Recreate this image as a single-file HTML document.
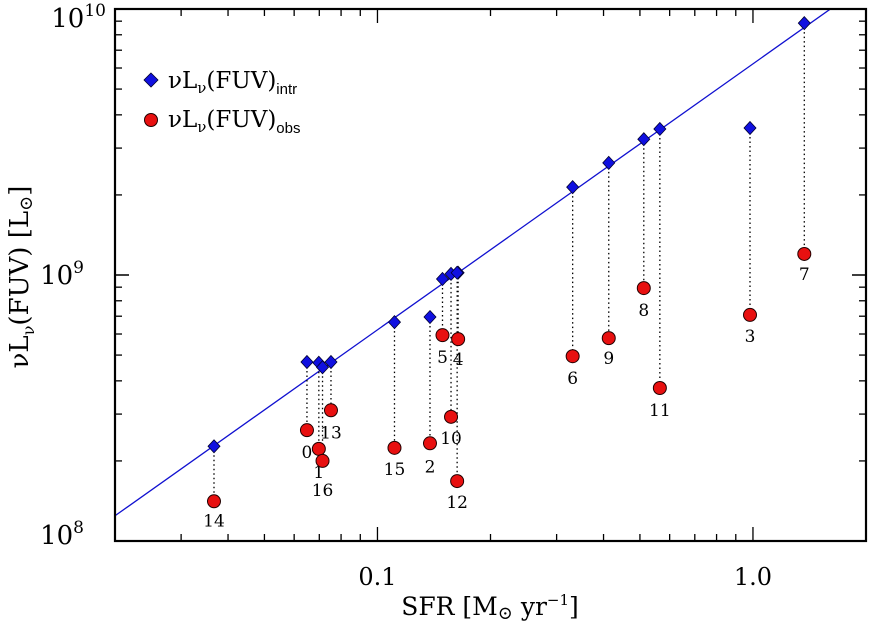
<!DOCTYPE html>
<html><head><meta charset="utf-8"><style>
html,body{margin:0;padding:0;background:#fff;}
svg{display:block;font-family:"DejaVu Serif","Liberation Serif",serif;}
</style></head><body>
<svg id="chart" width="869" height="625" viewBox="0 0 869 625" xmlns="http://www.w3.org/2000/svg">
<rect x="0" y="0" width="869" height="625" fill="#fff"/>
<g id="marks"></g>
<g id="axes"></g>
<text x="490" y="615" text-anchor="middle" font-size="25">SFR [M<tspan font-size="18" dy="4">⊙</tspan><tspan dy="-4"> yr</tspan><tspan font-size="15" dy="-10">−1</tspan><tspan dy="10">]</tspan></text>
<text transform="translate(28,277) rotate(-90)" text-anchor="middle" font-size="26">νL<tspan font-size="16" dy="6">ν</tspan><tspan dy="-6">(FUV)  [L</tspan><tspan font-size="18" dy="4">⊙</tspan><tspan dy="-4">]</tspan></text>
<g>
<polygon points="151,73 158,80 151,87 144,80" fill="#1010e0" stroke="#000030" stroke-width="0.8"/>
<text x="168" y="88" font-size="23">νL<tspan font-size="15" dy="5">ν</tspan><tspan dy="-5">(FUV)</tspan><tspan font-family="Liberation Sans, sans-serif" font-size="15" dy="6">intr</tspan></text>
<circle cx="151" cy="120" r="6.5" fill="#e81010" stroke="#200" stroke-width="1"/>
<text x="168" y="127" font-size="23">νL<tspan font-size="15" dy="5">ν</tspan><tspan dy="-5">(FUV)</tspan><tspan font-family="Liberation Sans, sans-serif" font-size="15" dy="6">obs</tspan></text>
</g>
</svg>
<script>
const galaxyIds = [14,0,1,16,13,15,2,5,10,4,12,6,9,8,11,3,7];
const sfrValues = [0.0367,0.0649,0.0698,0.0714,0.0752,0.111,0.138,0.149,0.157,0.164,0.163,0.331,0.413,0.512,0.565,0.982,1.37];
const lumIntr = [2.27e8,4.71e8,4.68e8,4.5e8,4.71e8,6.65e8,6.95e8,9.66e8,1.01e9,1.02e9,1.02e9,2.14e9,2.64e9,3.24e9,3.54e9,3.57e9,8.85e9];
const lumObs = [1.41e8,2.61e8,2.22e8,2.0e8,3.10e8,2.24e8,2.33e8,5.94e8,2.93e8,5.74e8,1.68e8,4.95e8,5.79e8,8.93e8,3.76e8,7.08e8,1.20e9];
const labelDy = [18,21,22,28,21,20,22,21,20,19,20,21,19,21,21,20,19];
const xTickLabels = ["0.1","1.0"];
const xTickValues = [0.1,1.0];
const yTickExps = [8,9,10];
const fitNorm = 6.22e9; // L = fitNorm * SFR

const NS="http://www.w3.org/2000/svg";
const L=115,R=866,T=9,B=541;
const xmin=Math.log10(0.02), xmax=Math.log10(2), ymin=8, ymax=10;
const X=v=>L+(Math.log10(v)-xmin)/(xmax-xmin)*(R-L);
const Y=v=>B-(Math.log10(v)-ymin)/(ymax-ymin)*(B-T);
function mk(tag,attrs,parent){const e=document.createElementNS(NS,tag);for(const k in attrs)e.setAttribute(k,attrs[k]);parent.appendChild(e);return e;}
const marks=document.getElementById('marks'), axes=document.getElementById('axes');

const defs=mk('defs',{},marks);const cp=mk('clipPath',{id:'pc'},defs);mk('rect',{x:L,y:T,width:R-L,height:B-T},cp);

const fit=mk('line',{x1:X(0.02),y1:Y(fitNorm*0.02),x2:X(2),y2:Y(fitNorm*2),stroke:'#1010d0','stroke-width':1.3,'clip-path':'url(#pc)'},marks);



for(let i=0;i<galaxyIds.length;i++){
  const x=X(sfrValues[i]);
  const c=mk('line',{x1:x,y1:Y(lumIntr[i]),x2:x,y2:Y(lumObs[i]),stroke:'#000','stroke-width':1.3,'stroke-dasharray':'1.5 3'},marks);
  
  
}
for(let i=0;i<galaxyIds.length;i++){
  const x=X(sfrValues[i]),yi=Y(lumIntr[i]),yo=Y(lumObs[i]);
  const d=mk('polygon',{points:`${x},${yi-6.5} ${x+6},${yi} ${x},${yi+6.5} ${x-6},${yi}`,fill:'#1010e0',stroke:'#000030','stroke-width':0.8},marks);
  
  
  const c=mk('circle',{cx:x,cy:yo,r:6.5,fill:'#e81010',stroke:'#200','stroke-width':1},marks);
  
  
  const t=mk('text',{x:x,y:yo+labelDy[i]+7,'text-anchor':'middle','font-size':17},marks);
  t.textContent=galaxyIds[i];
  
  
}

const fr=mk('rect',{x:L,y:T,width:R-L,height:B-T,fill:'none',stroke:'#000','stroke-width':2.2},axes);



for(let d=-2;d<=0;d++){for(let m=1;m<=9;m++){const v=m*Math.pow(10,d);if(v<0.02||v>2.0001)continue;
  const x=X(v),len=(m===1)?14:7;
  mk('line',{x1:x,y1:B,x2:x,y2:B-len,stroke:'#000','stroke-width':1.3},axes);
  mk('line',{x1:x,y1:T,x2:x,y2:T+len,stroke:'#000','stroke-width':1.3},axes);}}
xTickLabels.forEach((s,i)=>{const t=mk('text',{x:X(xTickValues[i]),y:B+44,'text-anchor':'middle','font-size':24},axes);t.textContent=s;
  
  });
for(let e=8;e<=9;e++){for(let m=1;m<=10;m++){const v=m*Math.pow(10,e);const y=Y(v),len=(m===1||m===10)?14:7;
  mk('line',{x1:L,y1:y,x2:L+len,y2:y,stroke:'#000','stroke-width':1.3},axes);
  mk('line',{x1:R,y1:y,x2:R-len,y2:y,stroke:'#000','stroke-width':1.3},axes);}}
yTickExps.forEach(e=>{const y=Y(Math.pow(10,e));const base=(e===10)?27:(e===8?y+3:y+9);
  const t=mk('text',{x:(e===10?106:84),y:base,'text-anchor':'end','font-size':26},axes);
  t.textContent='10';const s=mk('tspan',{'font-size':17,dy:-11},t);s.textContent=e;
  
  });
</script>
</body></html>
